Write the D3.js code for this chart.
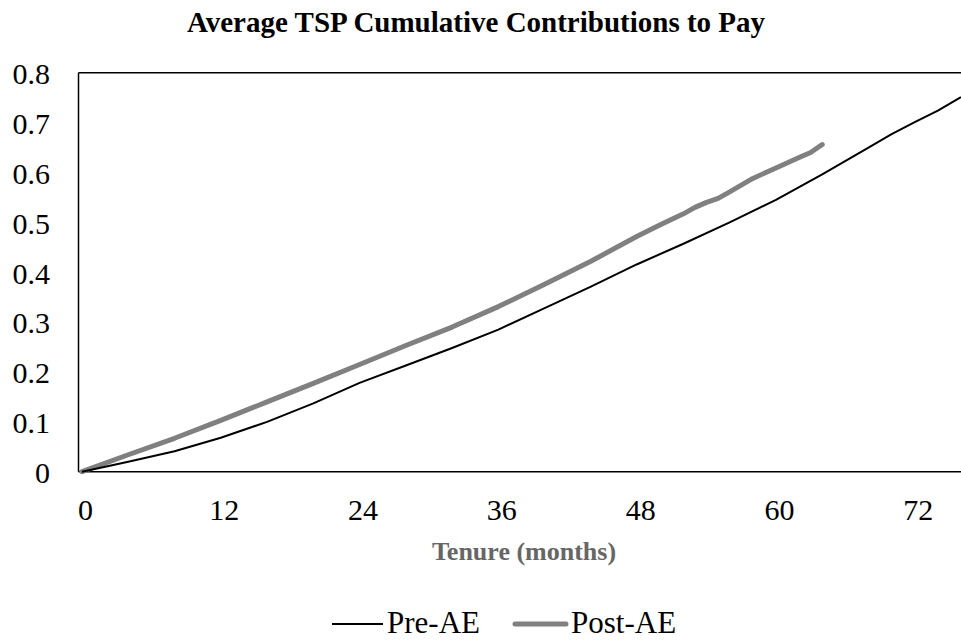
<!DOCTYPE html>
<html lang="en">
<head>
    <meta charset="UTF-8">
    <title>Average TSP Cumulative Contributions to Pay</title>
    <script src="https://d3js.org/d3.v7.min.js"></script>
    <style>
        body { margin: 0; background: #fff; }
        svg { display: block; font-family: "Liberation Serif", "Times New Roman", serif; }
    </style>
</head>
<body>
<div id="chart"></div>
<script>
    // Data
    var preMonths  = [0, 4, 8, 12, 16, 20, 24, 28, 32, 36, 40, 44, 48, 52, 56, 60, 64, 68, 70, 72, 74, 76];
    var preValues  = [0, 0.020, 0.041, 0.068, 0.100, 0.137, 0.178, 0.213, 0.248, 0.285, 0.328, 0.371,
                      0.416, 0.457, 0.500, 0.545, 0.596, 0.650, 0.677, 0.701, 0.724, 0.751];
    var postMonths = [0, 4, 8, 12, 16, 20, 24, 28, 32, 36, 40, 44, 48, 50, 52, 53, 54, 55, 56, 58, 60, 62, 63, 64];
    var postValues = [0, 0.034, 0.067, 0.103, 0.140, 0.177, 0.215, 0.253, 0.290, 0.331, 0.376, 0.422,
                      0.472, 0.495, 0.517, 0.530, 0.540, 0.548, 0.561, 0.588, 0.609, 0.630, 0.640, 0.656];
    var xTicks = [0, 12, 24, 36, 48, 60, 72];
    var yTicks = [0, 0.1, 0.2, 0.3, 0.4, 0.5, 0.6, 0.7, 0.8];
    var seriesNames = ["Pre-AE", "Post-AE"];

    var width = 961, height = 640;
    var plotLeft = 78.5, plotTop = 72.7, plotBottom = 471.7;

    var svg = d3.select("#chart").append("svg")
        .attr("width", width)
        .attr("height", height);

    var x = d3.scaleLinear().domain([0, 76]).range([82, 961]);
    var y = d3.scaleLinear().domain([0, 0.8]).range([plotBottom, plotTop]);

    // Title
    svg.append("text")
        .attr("x", 476)
        .attr("y", 32)
        .attr("text-anchor", "middle")
        .style("font-size", "29px")
        .style("font-weight", "bold")
        .text("Average TSP Cumulative Contributions to Pay");

    // Plot frame (right side runs off the picture)
    var frame = svg.append("g").attr("stroke", "#000").attr("stroke-width", 1.5).attr("fill", "none");
    frame.append("line").attr("x1", plotLeft).attr("x2", 965).attr("y1", plotTop).attr("y2", plotTop);
    frame.append("line").attr("x1", plotLeft).attr("x2", plotLeft).attr("y1", plotTop).attr("y2", plotBottom);
    frame.append("line").attr("x1", plotLeft).attr("x2", 965).attr("y1", plotBottom).attr("y2", plotBottom);

    // Y axis labels
    var yAxis = svg.append("g")
        .attr("transform", "translate(50,0)")
        .call(d3.axisLeft(y).tickValues(yTicks).tickSize(0).tickPadding(0)
            .tickFormat(function (d) { return d === 0 ? "0" : d3.format(".1f")(d); }));
    yAxis.select(".domain").remove();
    yAxis.selectAll("text")
        .attr("fill", "#000")
        .style("font-family", "Liberation Serif, serif")
        .style("font-size", "30px")
        .attr("dy", "0.36em");

    // X axis labels
    var xAxis = svg.append("g")
        .attr("transform", "translate(3,520)")
        .call(d3.axisBottom(x).tickValues(xTicks).tickSize(0).tickPadding(0));
    xAxis.select(".domain").remove();
    xAxis.selectAll("text")
        .attr("fill", "#000")
        .attr("y", 0)
        .attr("dy", 0)
        .style("font-family", "Liberation Serif, serif")
        .style("font-size", "30px");

    // Axis title
    svg.append("text")
        .attr("x", 524)
        .attr("y", 560)
        .attr("text-anchor", "middle")
        .attr("fill", "#666")
        .style("font-size", "26px")
        .style("font-weight", "bold")
        .text("Tenure (months)");

    // Lines
    var line = d3.line()
        .x(function (d) { return x(d[0]); })
        .y(function (d) { return y(d[1]); });

    var preData = preMonths.map(function (m, i) { return [m, preValues[i]]; });
    var postData = postMonths.map(function (m, i) { return [m, postValues[i]]; });

    svg.append("path")
        .datum(postData)
        .attr("d", line)
        .attr("fill", "none")
        .attr("stroke", "#808080")
        .attr("stroke-width", 5)
        .attr("stroke-linecap", "round")
        .attr("stroke-linejoin", "round");

    svg.append("path")
        .datum(preData)
        .attr("d", line)
        .attr("fill", "none")
        .attr("stroke", "#000")
        .attr("stroke-width", 2)
        .attr("stroke-linejoin", "round");

    // Legend
    var legendItems = [
        { name: seriesNames[0], x1: 332, x2: 383, tx: 387, color: "#000", w: 2, cap: "butt" },
        { name: seriesNames[1], x1: 515, x2: 566, tx: 571, color: "#808080", w: 5, cap: "round" }
    ];
    var legend = svg.append("g");
    legend.selectAll("line")
        .data(legendItems)
        .enter().append("line")
        .attr("x1", d => d.x1).attr("x2", d => d.x2)
        .attr("y1", 624).attr("y2", 624)
        .attr("stroke", d => d.color)
        .attr("stroke-width", d => d.w)
        .attr("stroke-linecap", d => d.cap);
    legend.selectAll("text")
        .data(legendItems)
        .enter().append("text")
        .attr("x", d => d.tx)
        .attr("y", 633)
        .style("font-size", "31px")
        .text(d => d.name);
</script>
</body>
</html>
